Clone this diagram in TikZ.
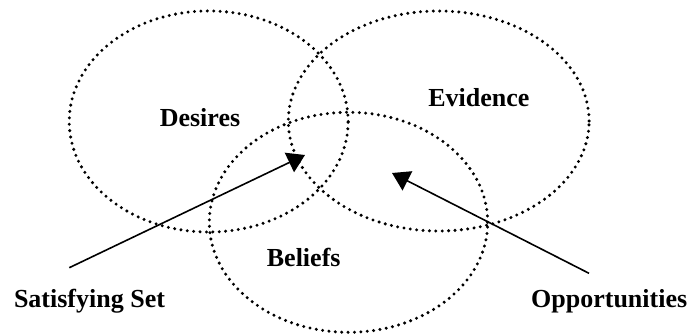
\documentclass[tikz,border=0pt]{standalone}
\usepackage{fontspec}
\setmainfont{Liberation Serif}
\usepackage{tikz}
\usetikzlibrary{arrows.meta}
\usetikzlibrary{positioning}

\begin{document}
\begin{tikzpicture}[
        x=0.75pt, y=-0.75pt,
        every node/.style={font=\bfseries\fontsize{19.5}{22}\selectfont},
        setlabel/.style={anchor=base, inner sep=0pt},
        region/.style={line width=2.5pt, dash pattern=on 0pt off 4.8pt, line cap=round},
        arrow/.style={-{Triangle[length=13pt, width=16pt]}, line width=1.2pt}
    ]
    \useasboundingbox (0,0) rectangle (689,335);

    % Sets
    \draw[region] (208.7,121.5) ellipse [x radius=104.6pt, y radius=82.9pt];
    \draw[region] (438.7,121) ellipse [x radius=112.8pt, y radius=82.5pt];
    \draw[region] (348.5,222.3) ellipse [x radius=104.4pt, y radius=82.5pt];

    % Nodes
    \node[setlabel] (desires) at (200,126.7) {Desires};
    \node[setlabel] (evidence) at (478.8,106.7) {Evidence};
    \node[setlabel] (beliefs) at (303.7,266.7) {Beliefs};
    \node[setlabel] (satisfying) at (89.5,307) {Satisfying Set};
    \node[setlabel] (opportunities) at (609.2,307) {Opportunities};

    \coordinate (satstart) at (69.3,267.7);
    \coordinate (sattip) at (305,155);
    \coordinate (oppstart) at (589,273.3);
    \coordinate (opptip) at (392,173);

    % Arrows
    \draw[arrow] (satstart) -- (sattip);
    \draw[arrow] (oppstart) -- (opptip);

\end{tikzpicture}
\end{document}
